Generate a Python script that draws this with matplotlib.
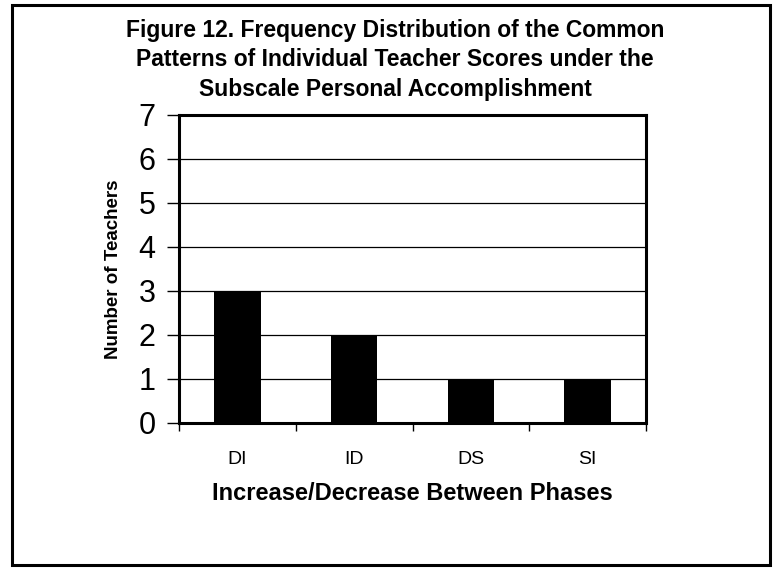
import matplotlib.pyplot as plt
from matplotlib.patches import Rectangle

categories = ['DI', 'ID', 'DS', 'SI']
teachers = [3, 2, 1, 1]
y_ticks = [0, 1, 2, 3, 4, 5, 6, 7]

plt.rcParams['font.family'] = ['Liberation Sans', 'DejaVu Sans']

W, H = 775, 570
fig = plt.figure(figsize=(W / 100, H / 100), dpi=100)

# outer border of the chart object
fig.patches.append(Rectangle((12 / W, 5 / H), (770 - 12) / W, (565 - 5) / H,
                             transform=fig.transFigure, fill=False,
                             edgecolor='black', linewidth=2.2))

left, right, top, bottom = 179, 646, 115, 423
ax = fig.add_axes([left / W, 1 - bottom / H, (right - left) / W, (bottom - top) / H])

x = range(len(categories))
ax.bar(x, teachers, width=0.4, color='black', zorder=3)
ax.set_xlim(-0.5, len(categories) - 0.5)
ax.set_ylim(0, 7)
ax.set_yticks(y_ticks)
ax.set_yticklabels([str(v) for v in y_ticks], fontsize=22)
ax.yaxis.grid(True, color='black', linewidth=0.9, zorder=0)

ax.set_xticks([i - 0.5 for i in range(len(categories) + 1)])
ax.set_xticklabels([])
ax.set_xticks(list(x), minor=True)
ax.set_xticklabels(categories, minor=True, fontsize=14)
ax.tick_params(axis='x', which='minor', length=0, pad=20)
ax.tick_params(axis='x', which='major', length=6, width=1, direction='out')
ax.tick_params(axis='y', length=9, width=1, direction='out', pad=8)

for s in ax.spines.values():
    s.set_linewidth(2.2)

ax.set_xlabel('Increase/Decrease Between Phases', fontsize=17,
              fontweight='bold', labelpad=10)
ax.set_ylabel('Number of Teachers', fontsize=13.5, fontweight='bold', labelpad=12)

fig.text(395 / W, 1 - 60 / H,
         'Figure 12. Frequency Distribution of the Common\n'
         'Patterns of Individual Teacher Scores under the\n'
         'Subscale Personal Accomplishment',
         ha='center', va='center', fontsize=16.5, fontweight='bold',
         linespacing=1.38)

fig.savefig('out.png', dpi=100)
